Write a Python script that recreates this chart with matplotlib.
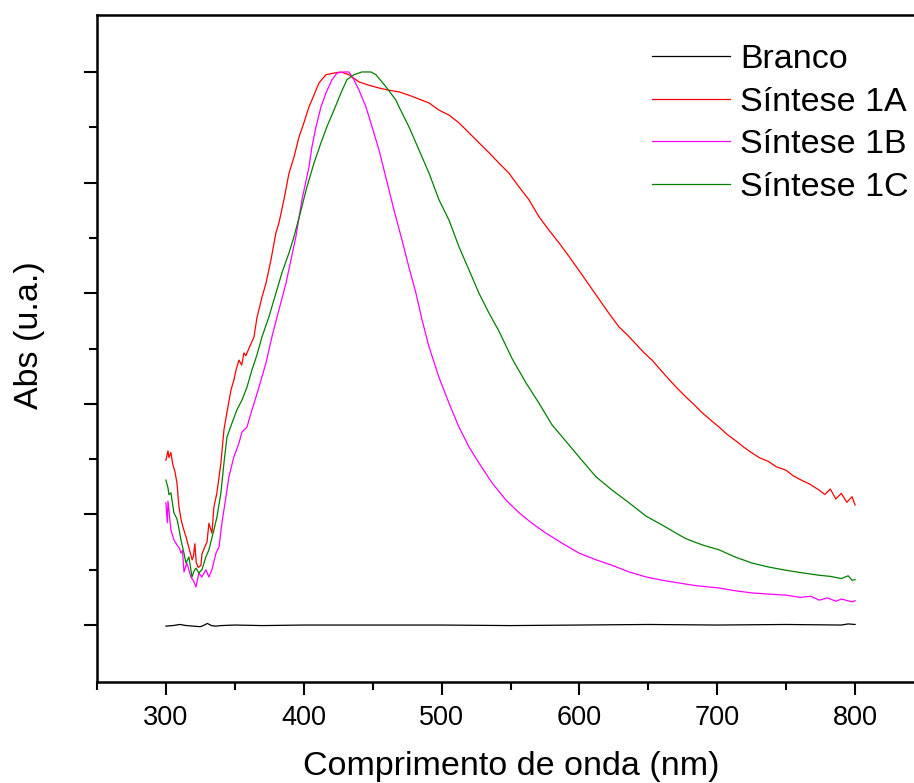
import matplotlib
matplotlib.use("Agg")
import matplotlib.pyplot as plt
from matplotlib.ticker import MultipleLocator, FixedLocator

plt.rcParams['font.family'] = ['Liberation Sans', 'DejaVu Sans']

# ---------------- data ----------------
labels = ["Branco", "Síntese 1A", "Síntese 1B", "Síntese 1C"]
colors = ["#000000", "#FF0000", "#FF00FF", "#008000"]

branco_nm = [300, 305, 310, 315, 320, 325, 328, 330, 333, 336, 340, 350, 370, 400,
             450, 500, 550, 600, 650, 700, 750, 790, 795, 800]
branco_v = [-0.002, -0.001, 0.001, -0.001, -0.002, -0.003, 0.000, 0.003, -0.001, -0.002,
            -0.001, 0.000, -0.001, 0.0, 0.0, 0.0, -0.001, 0.0, 0.001, 0.0, 0.001, 0.0,
            0.002, 0.001]

s1a_nm = [300, 301.5, 302.2, 303.6, 305, 306.5, 308, 309.4, 310.9, 312.5, 314.5, 316, 317.5,
          319, 320, 321, 322, 323.5, 325.4, 326.1, 328, 329.8, 331.2, 333.4, 334.8, 337,
          339.9, 342.1, 344.3, 347.2, 349.3, 351, 353, 355, 356.6, 358, 360.2, 363.9, 366,
          369.7, 372.6, 376.2, 379.8, 382, 385.6, 389.3, 392.9, 396.5, 400.1, 403.8, 407.4,
          411, 416.1, 421.9, 427, 432.8, 440.1, 447.3, 454.6, 461.8, 469.1, 476.3, 483.6,
          490.9, 498.1, 505.4, 512.6, 519.9, 527.1, 534.4, 541.7, 548.9, 556.2, 563.4,
          570.7, 577.9, 585.2, 592, 600, 607, 614, 621, 628.7, 635, 641, 647, 652.7, 659,
          665, 671, 677.4, 683, 689, 695, 701.3, 707, 713, 719, 725.3, 731, 737, 743,
          749.9, 755, 761, 767, 773.9, 778, 782, 786, 790, 794, 797.8, 800]
s1a_v = [0.298, 0.315, 0.303, 0.312, 0.290, 0.278, 0.257, 0.215, 0.192, 0.176, 0.160, 0.146,
         0.132, 0.118, 0.125, 0.147, 0.113, 0.104, 0.108, 0.128, 0.140, 0.150, 0.184, 0.166,
         0.213, 0.239, 0.293, 0.353, 0.385, 0.425, 0.443, 0.462, 0.479, 0.470, 0.492, 0.487,
         0.500, 0.521, 0.555, 0.593, 0.618, 0.660, 0.709, 0.727, 0.769, 0.817, 0.846, 0.882,
         0.908, 0.937, 0.958, 0.980, 0.995, 0.998, 1.000, 0.995, 0.982, 0.976, 0.971, 0.967,
         0.964, 0.958, 0.951, 0.944, 0.931, 0.922, 0.908, 0.890, 0.872, 0.854, 0.835, 0.817,
         0.792, 0.769, 0.738, 0.714, 0.691, 0.668, 0.640, 0.615, 0.590, 0.565, 0.539, 0.524,
         0.508, 0.492, 0.479, 0.461, 0.444, 0.428, 0.412, 0.399, 0.384, 0.371, 0.358, 0.345,
         0.334, 0.322, 0.311, 0.302, 0.296, 0.286, 0.280, 0.270, 0.262, 0.255, 0.244, 0.236,
         0.246, 0.228, 0.238, 0.222, 0.232, 0.217]

s1b_nm = [300, 301, 301.5, 303.6, 305.8, 308, 310, 310.9, 312, 313.1, 315.2, 318.1, 320,
          321.8, 323.9, 326.1, 329, 331.2, 333.4, 336.3, 338.5, 340.6, 343.5, 345.7, 349.3,
          353, 355.2, 358.8, 361.7, 365.3, 367.5, 372.6, 376.9, 382, 387.1, 390.7, 394.3,
          398.7, 403.8, 405.9, 408.9, 412.5, 416.1, 420.5, 424.1, 429.2, 432.8, 436.4,
          440.1, 445.1, 449.5, 454.6, 459.7, 465.5, 471.3, 476.3, 481.4, 485.8, 490.9,
          498.1, 505.4, 512.6, 519.9, 527.1, 536.6, 546.7, 556.2, 565.6, 575.8, 587.4,
          599.7, 612, 623.7, 636, 648.3, 659.9, 672.3, 685, 701.3, 713, 725.3, 737, 749.9,
          760, 768, 773.9, 780, 786, 790, 797.8, 800]
s1b_v = [0.221, 0.185, 0.224, 0.172, 0.154, 0.145, 0.138, 0.130, 0.135, 0.096, 0.112, 0.087,
         0.080, 0.069, 0.094, 0.087, 0.100, 0.087, 0.100, 0.130, 0.141, 0.184, 0.231, 0.268,
         0.304, 0.329, 0.349, 0.358, 0.383, 0.412, 0.430, 0.474, 0.521, 0.570, 0.618, 0.660,
         0.702, 0.769, 0.828, 0.864, 0.901, 0.937, 0.962, 0.986, 0.998, 1.000, 1.000, 0.986,
         0.967, 0.937, 0.901, 0.859, 0.808, 0.750, 0.696, 0.647, 0.600, 0.552, 0.503, 0.448,
         0.401, 0.358, 0.322, 0.293, 0.257, 0.226, 0.203, 0.184, 0.166, 0.148, 0.130, 0.118,
         0.108, 0.096, 0.087, 0.081, 0.076, 0.071, 0.067, 0.062, 0.058, 0.056, 0.054, 0.050,
         0.052, 0.045, 0.049, 0.043, 0.047, 0.042, 0.044]

s1c_nm = [300, 301.5, 302.2, 303.6, 305.8, 308, 309.4, 310.9, 313.1, 314.5, 316.7, 318.9,
          320.5, 321.8, 323.9, 326.1, 329, 331.2, 334.8, 337, 339.9, 342.1, 344.3, 347.9,
          351.5, 355.2, 358.8, 362.4, 366, 369.7, 374.7, 379.8, 384.2, 389.3, 392.9, 398,
          402.3, 407.4, 412.5, 416.8, 421.9, 427, 431.3, 436.4, 442.2, 448.8, 452.4, 459.7,
          466.9, 469.1, 476.3, 483.6, 490.9, 498.1, 505.4, 512.6, 519.9, 527.1, 534.4,
          541.7, 551.1, 561.2, 570.7, 580.1, 590.3, 599.7, 612, 623.7, 636, 648.3, 659.9,
          672.3, 677.4, 689, 701.3, 713, 725.3, 737, 749.9, 760, 773.9, 782, 790, 795,
          797.8, 800]
s1c_v = [0.262, 0.248, 0.236, 0.239, 0.203, 0.192, 0.175, 0.154, 0.130, 0.112, 0.123, 0.087,
         0.098, 0.103, 0.094, 0.100, 0.123, 0.136, 0.172, 0.195, 0.239, 0.293, 0.340, 0.365,
         0.389, 0.407, 0.430, 0.461, 0.488, 0.521, 0.557, 0.600, 0.637, 0.673, 0.702, 0.750,
         0.792, 0.835, 0.872, 0.901, 0.931, 0.962, 0.986, 0.995, 1.000, 1.000, 0.995, 0.973,
         0.949, 0.937, 0.901, 0.859, 0.817, 0.769, 0.732, 0.684, 0.642, 0.600, 0.564, 0.531,
         0.482, 0.438, 0.401, 0.362, 0.332, 0.304, 0.268, 0.244, 0.221, 0.197, 0.181, 0.163,
         0.156, 0.145, 0.136, 0.123, 0.112, 0.105, 0.099, 0.095, 0.090, 0.088, 0.084, 0.089,
         0.081, 0.082]

x_ticks = [300, 400, 500, 600, 700, 800]
y_major = [0.0, 0.2, 0.4, 0.6, 0.8, 1.0]
y_minor = [0.1, 0.3, 0.5, 0.7, 0.9]
x_label = "Comprimento de onda (nm)"
y_label = "Abs (u.a.)"

# ---------------- figure ----------------
W, H = 914, 783
fig = plt.figure(figsize=(W / 100, H / 100), dpi=100)
ax_l, ax_r, ax_t, ax_b = 97, 924, 15, 682
ax = fig.add_axes([ax_l / W, 1 - ax_b / H, (ax_r - ax_l) / W, (ax_b - ax_t) / H])

series = [(branco_nm, branco_v), (s1a_nm, s1a_v), (s1b_nm, s1b_v), (s1c_nm, s1c_v)]
for (xs, ys), lab, col in zip(series, labels, colors):
    ax.plot(xs, ys, color=col, lw=0.9, label=lab)

ax.set_xlim(250, 850)
ax.set_ylim(-0.103, 1.103)
ax.set_xticks(x_ticks)
ax.xaxis.set_minor_locator(MultipleLocator(50))
ax.yaxis.set_major_locator(FixedLocator(y_major))
ax.yaxis.set_minor_locator(FixedLocator(y_minor))
ax.set_yticklabels([])
ax.tick_params(which='major', direction='out', length=9.5, width=1.5, labelsize=19.5, pad=7)
ax.tick_params(which='minor', direction='out', length=5.5, width=1.5)
for sp in ax.spines.values():
    sp.set_linewidth(1.8)

fig.text(511 / W, 1 - 767 / H, x_label, ha='center', va='center', fontsize=24.5)
fig.text(30 / W, 1 - 335 / H, y_label, ha='center', va='center', fontsize=24.5, rotation=90)

ax.legend(loc='upper left', bbox_to_anchor=(652 / W, 1 - 44 / H),
          bbox_transform=fig.transFigure, frameon=False, fontsize=24.5,
          handlelength=2.3, handletextpad=0.3, labelspacing=0.34, borderpad=0,
          borderaxespad=0)

fig.savefig("out.png", dpi=100)
